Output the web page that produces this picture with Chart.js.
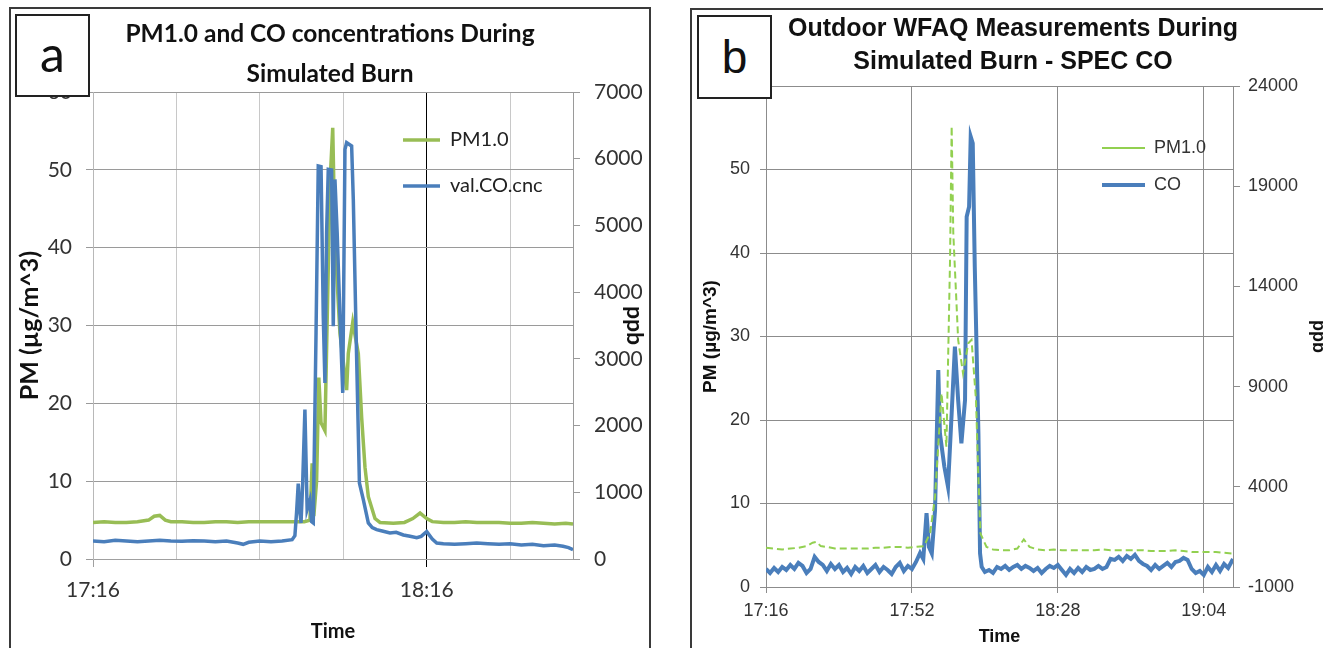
<!DOCTYPE html>
<html>
<head>
<meta charset="utf-8">
<script src="https://cdn.jsdelivr.net/npm/chart.js@4.4.1/dist/chart.umd.min.js"></script>
<style>
html, body { margin: 0; padding: 0; background: #fff; overflow: hidden; width: 1323px; height: 648px; }
.panel { position: absolute; box-sizing: border-box; border: 2px solid #3a3a3a; background: #fff; }
#panelA { left: 9px; top: 7px; width: 642px; height: 700px; }
#panelB { left: 690px; top: 8px; width: 700px; height: 700px; }
canvas { position: absolute; }
#graph_a { left: 12px; top: 10px; }
#graph_b { left: 693px; top: 11px; }
.tag { position: absolute; box-sizing: border-box; background: #fff; border: 2px solid #222; text-align: center; z-index: 2; color: #111; }
#tagA { left: 15px; top: 14px; width: 75px; height: 83px; font: 50px Lato, sans-serif; line-height: 74px; }
#tagB { left: 697px; top: 15px; width: 75px; height: 84px; font: 46px 'Liberation Sans', Arial, sans-serif; line-height: 80px; }
</style>
</head>
<body>
<div class="panel" id="panelA"></div>
<div class="panel" id="panelB"></div>
<canvas id="graph_a"></canvas>
<canvas id="graph_b"></canvas>
<div class="tag" id="tagA">a</div>
<div class="tag" id="tagB">b</div>
<script>
// minutes after 17:16
var aPmTime = [0,2,4,6,8,10,11,12,13,14,16,18,20,22,24,26,28,30,32,34,36,38,39,39.4,39.7,40.2,40.6,41.0,41.7,42.6,43.1,43.5,44.4,45.6,45.9,46.7,47.7,48.3,48.9,49.5,50.7,51.6,54,56,57.5,58.8,60,61,63,65,67,69,71,73,75,77,79,81,83,85,86.3];
var aPmVal = [4.7,4.8,4.7,4.7,4.8,5.0,5.5,5.6,5.0,4.8,4.8,4.7,4.7,4.8,4.8,4.7,4.8,4.8,4.8,4.8,4.8,4.8,5.0,12.3,5.5,10,23.3,17.5,16.5,48,55.4,40.9,29,21.7,26.4,30.4,26.4,18.2,11.8,8.0,5.2,4.7,4.6,4.7,5.2,5.9,5.2,4.8,4.7,4.7,4.8,4.7,4.7,4.7,4.6,4.6,4.7,4.6,4.5,4.6,4.5];

var aCoTime = [0,2,4,6,8,10,12,14,16,18,20,22,24,26,27,28,30,32,34,35.8,36.3,36.6,36.9,37.2,37.4,37.7,38.1,38.5,39.0,39.3,39.6,40.1,40.5,41.0,41.4,41.7,42.0,42.3,42.9,43.2,43.5,43.9,44.4,44.9,45.3,45.6,46.5,46.8,47.3,47.9,48.6,49.5,50.2,51.0,52,53.4,54.5,55.8,57,58.2,59,60,61,61.8,63,65,67,69,71,73,75,77,79,81,83,84.5,85.5,86.3];
var aCoVal = [270,260,280,270,260,270,280,270,265,275,270,260,270,240,220,250,270,260,270,290,350,700,1130,700,540,1140,2240,740,880,560,540,3390,5890,5880,3640,2640,4890,5840,5830,3490,5690,4890,3640,2490,6140,6240,6190,5390,3390,1140,890,540,470,440,420,390,400,360,340,320,340,410,300,240,230,220,230,240,230,220,230,210,220,200,210,190,170,140];

var bPmTime = [0,2,4,6,8,10,11.5,12.5,13.5,15,17,19,21,23,25,27,29,31,33,35,37,39,40.5,41.7,43.3,44.5,45.4,45.8,46.2,47.4,48.6,49.9,50.7,51.8,52.3,52.9,54.4,56,58,60,62,63.6,65,67,69,71,73,75,77,79,81,83,85,87,89,91,93,95,97,99,101,103,105,107,109,111,113,115.2];
var bPmVal = [4.7,4.6,4.5,4.6,4.7,4.9,5.3,5.4,4.9,4.8,4.6,4.6,4.6,4.6,4.6,4.7,4.7,4.8,4.8,4.7,4.8,4.9,6.5,10.8,23.2,16.8,39.2,55.2,42.4,29.6,25.6,29.2,29.6,22.4,14.4,6.4,4.8,4.5,4.4,4.4,4.6,5.7,4.8,4.5,4.4,4.5,4.4,4.4,4.4,4.4,4.4,4.5,4.4,4.4,4.4,4.4,4.4,4.3,4.3,4.3,4.4,4.3,4.2,4.2,4.2,4.2,4.1,4.0];

var bCoTime = [0,1,2,3,4,5,6,7,8,9,10,11,12,13,14,15,16,17,18,19,20,21,22,23,24,25,26,27,28,29,30,31,32,33,34,35,36,37,
    38,38.8,39.6,40.2,40.9,41.7,42.5,42.9,44.0,44.9,45.8,46.6,47.4,48.2,49.1,49.5,50.1,50.5,51.0,51.5,52.4,52.8,53.2,
    54,55,56,57,58,59,60,61,62,63,64,65,66,67,68,69,70,71,72,73,74,75,76,77,78,79,80,81,82,83,84,85,86,87,88,89,90,91,92,93,
    94,95,96,97,98,99,100,101,102,103,104,105,106,107,108,109,110,111,112,113,114,115.2];
var bCoVal = [-100,-300,-50,-250,0,-150,100,-100,200,50,-300,-100,500,250,100,-200,150,-100,100,-250,-50,-350,0,-200,50,-300,-100,100,-250,0,-150,-350,0,200,-200,50,-100,250,
    700,400,2680,1000,680,2840,9830,6670,5000,4000,7670,11000,8330,6170,8330,17480,17980,21470,21140,14980,6670,680,10,
    -250,-150,-300,0,-100,50,-150,0,100,-100,50,-50,-200,-50,-300,-100,50,-50,100,-150,-400,-100,-300,-50,-250,0,-150,-100,50,-100,
    0,400,350,500,300,550,400,600,300,150,50,-150,100,-100,50,200,0,250,300,450,350,-100,-300,-200,-400,0,-250,100,-200,150,-50,400];

function toPoints(times, vals) {
    var pts = [];
    for (var i = 0; i < times.length; i++) {
        pts.push({x: times[i], y: vals[i]});
    }
    return pts;
}

function fmtTime(v) {
    var m = Math.round(17 * 60 + 16 + v);
    var h = Math.floor(m / 60);
    var mm = m % 60;
    return h + ':' + (mm < 10 ? '0' + mm : mm);
}

function fixWidth(w) { return function(scale) { scale.width = w; }; }
function fixHeight(h) { return function(scale) { scale.height = h; }; }
function plain(v) { return String(v); }

// puts the legend at a given spot inside the plot
var legendSpot = {
    id: 'legendSpot',
    afterLayout: function(chart, args, opts) {
        var lg = chart.legend;
        if (!lg) return;
        lg.left = opts.x;
        lg.top = opts.y;
        lg.right = opts.x + lg.width;
        lg.bottom = opts.y + 400;
    }
};

var fontB = "'Liberation Sans', Arial, sans-serif";
Chart.defaults.font.family = 'Lato';

var ctx_a = document.getElementById('graph_a').getContext('2d');
ctx_a.canvas.width = 636;
ctx_a.canvas.height = 638;

var chart_a = new Chart(ctx_a, {
    type: 'line',
    plugins: [legendSpot],
    data: {
        datasets: [
            {
                label: 'PM1.0',
                data: toPoints(aPmTime, aPmVal),
                yAxisID: 'y',
                borderColor: '#98bd55',
                backgroundColor: '#98bd55',
                borderWidth: 3.5,
                pointRadius: 0,
                tension: 0,
                order: 1
            },
            {
                label: 'val.CO.cnc',
                data: toPoints(aCoTime, aCoVal),
                yAxisID: 'y1',
                borderColor: '#4a7ebb',
                backgroundColor: '#4a7ebb',
                borderWidth: 3.5,
                pointRadius: 0,
                tension: 0,
                order: 0
            }
        ]
    },
    options: {
        responsive: false,
        animation: false,
        plugins: {
            title: {
                display: true,
                text: ['PM1.0 and CO concentrations During', 'Simulated Burn'],
                color: '#111',
                font: {size: 24.5, weight: 'bold', lineHeight: 40 / 24.5},
                padding: {top: 4, bottom: -2}
            },
            legend: {
                position: 'chartArea',
                align: 'start',
                labels: {
                    usePointStyle: true,
                    pointStyle: 'line',
                    pointStyleWidth: 37,
                    padding: 26,
                    color: '#222',
                    font: {size: 20},
                    sort: function(a, b) { return a.datasetIndex - b.datasetIndex; }
                }
            },
            legendSpot: {x: 365, y: 94},
            tooltip: {enabled: false}
        },
        scales: {
            x: {
                type: 'linear',
                min: 0,
                max: 86.3,
                afterFit: fixHeight(89),
                border: {color: '#a0a0a0'},
                grid: {
                    color: function(c) { return c.tick && c.tick.value === 60 ? '#000' : '#c8c8c8'; },
                    tickColor: function(c) {
                        if (!c.tick) return 'rgba(0,0,0,0)';
                        if (c.tick.value === 60) return '#000';
                        if (c.tick.value === 0) return '#a0a0a0';
                        return 'rgba(0,0,0,0)';
                    },
                    tickLength: 8
                },
                ticks: {
                    stepSize: 15,
                    includeBounds: false,
                    maxRotation: 0,
                    autoSkip: false,
                    padding: 11,
                    color: '#333',
                    font: {size: 21},
                    callback: function(v) { return v % 60 === 0 ? fmtTime(v) : ''; }
                },
                title: {display: true, text: 'Time', color: '#111', font: {size: 20, weight: 'bold'}, padding: {top: 0, bottom: 4}}
            },
            y: {
                position: 'left',
                min: 0,
                max: 60,
                afterFit: fixWidth(81),
                border: {color: '#b8b8b8'},
                grid: {color: '#9a9a9a', tickColor: '#9a9a9a', tickLength: 7},
                ticks: {stepSize: 10, padding: 14, color: '#333', font: {size: 21}, callback: plain},
                title: {display: true, text: 'PM (µg/m^3)', color: '#111', font: {size: 25, weight: 'bold'}, padding: {top: 3, bottom: 0}}
            },
            y1: {
                position: 'right',
                min: 0,
                max: 7000,
                afterFit: fixWidth(75),
                border: {color: '#9a9a9a'},
                grid: {drawOnChartArea: false, color: '#9a9a9a', tickLength: 7},
                ticks: {stepSize: 1000, padding: 14, color: '#333', font: {size: 21}, callback: plain},
                title: {display: true, text: 'ppb', color: '#111', font: {size: 23, weight: 'bold'}, padding: {top: 0, bottom: 0}}
            }
        }
    }
});

var ctx_b = document.getElementById('graph_b').getContext('2d');
ctx_b.canvas.width = 640;
ctx_b.canvas.height = 637;

var chart_b = new Chart(ctx_b, {
    type: 'line',
    plugins: [legendSpot],
    data: {
        datasets: [
            {
                label: 'PM1.0',
                data: toPoints(bPmTime, bPmVal),
                yAxisID: 'y',
                borderColor: '#92d050',
                backgroundColor: '#92d050',
                borderWidth: 2,
                borderDash: [7, 4],
                pointRadius: 0,
                tension: 0
            },
            {
                label: 'CO',
                data: toPoints(bCoTime, bCoVal),
                yAxisID: 'y1',
                borderColor: '#4a7ebb',
                backgroundColor: '#4a7ebb',
                borderWidth: 4,
                pointRadius: 0,
                tension: 0
            }
        ]
    },
    options: {
        responsive: false,
        animation: false,
        plugins: {
            title: {
                display: true,
                text: ['Outdoor WFAQ Measurements During', 'Simulated Burn - SPEC CO'],
                color: '#111',
                font: {family: fontB, size: 25, weight: 'bold', lineHeight: 33 / 25},
                padding: {top: 2, bottom: 7}
            },
            legend: {
                position: 'chartArea',
                align: 'start',
                labels: {
                    usePointStyle: true,
                    pointStyle: 'line',
                    pointStyleWidth: 43,
                    padding: 19,
                    color: '#333',
                    font: {family: fontB, size: 18}
                }
            },
            legendSpot: {x: 390, y: 109},
            tooltip: {enabled: false}
        },
        scales: {
            x: {
                type: 'linear',
                min: 0,
                max: 115.2,
                afterFit: fixHeight(61),
                border: {color: '#8c8c8c'},
                grid: {color: '#8c8c8c', tickLength: 6},
                ticks: {
                    stepSize: 36,
                    includeBounds: false,
                    maxRotation: 0,
                    autoSkip: false,
                    padding: 7,
                    color: '#333',
                    font: {family: fontB, size: 18},
                    callback: function(v) { return fmtTime(v); }
                },
                title: {display: true, text: 'Time', color: '#111', font: {family: fontB, size: 18, weight: 'bold'}, padding: {top: 0, bottom: 0}}
            },
            y: {
                position: 'left',
                min: 0,
                max: 60,
                afterFit: fixWidth(73),
                border: {color: '#8c8c8c'},
                grid: {color: '#8c8c8c', tickLength: 6},
                ticks: {stepSize: 10, padding: 10, color: '#333', font: {family: fontB, size: 18}, callback: plain},
                title: {display: true, text: 'PM (µg/m^3)', color: '#111', font: {family: fontB, size: 19, weight: 'bold'}, padding: {top: 6, bottom: 0}}
            },
            y1: {
                position: 'right',
                min: -1000,
                max: 24000,
                afterFit: fixWidth(100),
                border: {color: '#8c8c8c'},
                grid: {drawOnChartArea: false, color: '#8c8c8c', tickLength: 7},
                ticks: {stepSize: 5000, padding: 8, color: '#333', font: {family: fontB, size: 18}, callback: plain},
                title: {display: true, text: 'ppb', color: '#111', font: {family: fontB, size: 18, weight: 'bold'}, padding: {top: 4, bottom: 0}}
            }
        }
    }
});
</script>
</body>
</html>
